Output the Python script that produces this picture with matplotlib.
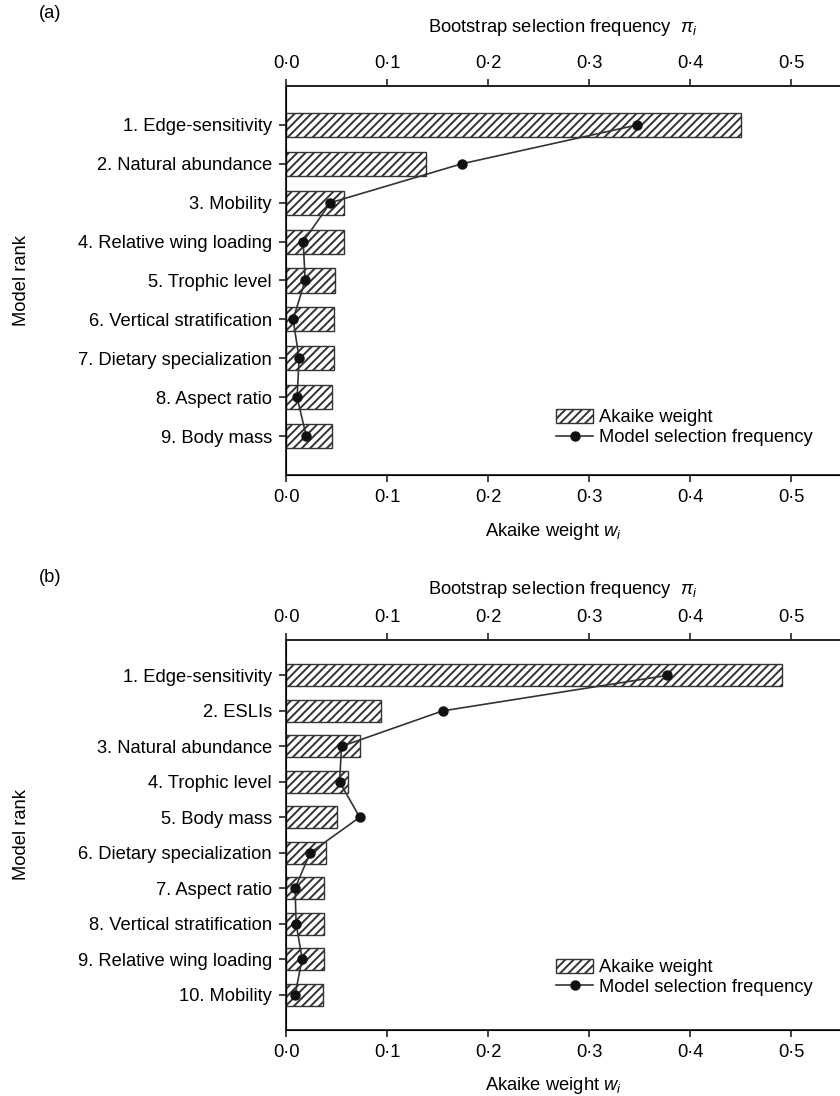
import numpy as np
import matplotlib
matplotlib.use("Agg")
import matplotlib.pyplot as plt
from matplotlib.patches import Patch
from matplotlib.lines import Line2D

plt.rcParams['font.family'] = ['Liberation Sans', 'DejaVu Sans']
plt.rcParams['hatch.linewidth'] = 1.4
plt.rcParams['mathtext.fontset'] = 'custom'
plt.rcParams['mathtext.it'] = 'Liberation Sans:italic'
plt.rcParams['mathtext.rm'] = 'Liberation Sans'

# panel (a)
labels_a = ["1. Edge-sensitivity", "2. Natural abundance", "3. Mobility",
            "4. Relative wing loading", "5. Trophic level", "6. Vertical stratification",
            "7. Dietary specialization", "8. Aspect ratio", "9. Body mass"]
akaike_a = [0.450, 0.139, 0.057, 0.057, 0.049, 0.048, 0.048, 0.046, 0.046]
boot_a = [0.348, 0.174, 0.044, 0.017, 0.019, 0.007, 0.013, 0.011, 0.020]

# panel (b)
labels_b = ["1. Edge-sensitivity", "2. ESLIs", "3. Natural abundance", "4. Trophic level",
            "5. Body mass", "6. Dietary specialization", "7. Aspect ratio",
            "8. Vertical stratification", "9. Relative wing loading", "10. Mobility"]
akaike_b = [0.491, 0.094, 0.073, 0.061, 0.050, 0.040, 0.038, 0.038, 0.038, 0.037]
boot_b = [0.377, 0.155, 0.055, 0.053, 0.073, 0.024, 0.009, 0.010, 0.016, 0.009]

xticks = [0.0, 0.1, 0.2, 0.3, 0.4, 0.5]
xticklabels = [f"{v:.1f}".replace('.', '\u00b7') for v in xticks]

W, H = 840, 1096
fig = plt.figure(figsize=(W / 100, H / 100), dpi=100)

FS = 13.2
XMAX = (W - 286) / 1010.0
AXC = '#222222'


def panel(rect, labels, akaike, boot, tag, tag_y, top_lab_y, bot_lab_y, leg_y):
    ax = fig.add_axes(rect)
    n = len(labels)
    pos = np.arange(1, n + 1)
    ax.barh(pos, akaike, height=0.62, color='white', edgecolor='#333333',
            linewidth=1.0, hatch='////')
    ax.set_ylim(n + 1, 0)
    ax.set_xlim(0, XMAX)
    ax.set_yticks(pos)
    ax.set_yticklabels(labels, fontsize=FS)
    ax.set_xticks(xticks)
    ax.set_xticklabels(xticklabels, fontsize=FS)
    ax.spines['right'].set_visible(False)
    for s in ['left', 'bottom', 'top']:
        ax.spines[s].set_linewidth(1.3)
        ax.spines[s].set_color(AXC)
    ax.tick_params(length=5, width=1.2, color=AXC, pad=5)

    ax2 = ax.twiny()
    ax2.set_xlim(0, XMAX)
    ax2.set_xticks(xticks)
    ax2.set_xticklabels(xticklabels, fontsize=FS)
    ax2.spines['right'].set_visible(False)
    ax2.spines['top'].set_linewidth(1.3)
    ax2.spines['top'].set_color(AXC)
    ax2.tick_params(length=5, width=1.2, color=AXC, pad=5)
    ax2.plot(boot, pos, color='#333333', linewidth=1.2, marker='o',
             markersize=6.5, markerfacecolor='#111111', markeredgecolor='#111111')

    handles = [Patch(facecolor='white', edgecolor='#333333', hatch='////', linewidth=1.0),
               Line2D([], [], color='#333333', linewidth=1.2, marker='o',
                      markersize=6.5, markerfacecolor='#111111', markeredgecolor='#111111')]
    ax2.legend(handles, ["Akaike weight", "Model selection frequency"], loc='upper left',
               bbox_to_anchor=(0.488, leg_y), frameon=False, fontsize=FS,
               borderaxespad=0, borderpad=0, handlelength=2.0, handleheight=0.8,
               handletextpad=0.3, labelspacing=0.15)

    fig.text(50 / W, 1 - tag_y / H, tag, fontsize=FS, ha='center', va='center')
    fig.text(563 / W, 1 - top_lab_y / H, r"Bootstrap selection frequency  $\pi_i$",
             fontsize=FS, ha='center', va='center')
    fig.text(553 / W, 1 - bot_lab_y / H, r"Akaike weight $w_i$",
             fontsize=FS, ha='center', va='center')
    cy = rect[1] + rect[3] / 2
    fig.text(22 / W, cy, "Model rank", fontsize=FS, rotation=90, ha='center', va='center')
    return ax


panel([286 / W, 1 - 475 / H, 1 - 286 / W, 389 / H], labels_a, akaike_a, boot_a,
      "(a)", 14, 28, 532, 0.17)
panel([286 / W, 1 - 1030 / H, 1 - 286 / W, 390 / H], labels_b, akaike_b, boot_b,
      "(b)", 577, 590, 1085, 0.183)

fig.savefig("out.png", dpi=100)
